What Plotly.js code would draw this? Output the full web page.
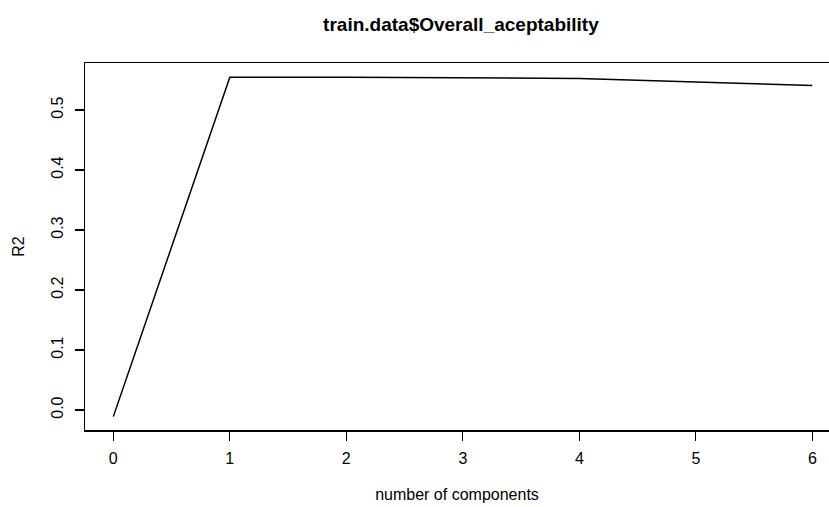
<!DOCTYPE html>
<html>
<head>
<meta charset="utf-8">
<script src="https://cdn.plot.ly/plotly-3.0.1.min.js"></script>
<style>html,body{margin:0;padding:0;background:#fff;}#chart{width:829px;height:507px;}</style>
</head>
<body>
<div id="chart"></div>
<script>
const components = [0, 1, 2, 3, 4, 5, 6];
const r2Values = [-0.011, 0.5545, 0.5545, 0.5540, 0.5525, 0.5465, 0.5410];
const xTicks = [0, 1, 2, 3, 4, 5, 6];
const yTicks = [0.0, 0.1, 0.2, 0.3, 0.4, 0.5];
const yTickLabels = ["0.0", "0.1", "0.2", "0.3", "0.4", "0.5"];

const font = "Liberation Sans, Arial, sans-serif";

Plotly.newPlot("chart", [{
  x: components,
  y: r2Values,
  type: "scatter",
  mode: "lines",
  line: {color: "#000000", width: 1.5},
  hoverinfo: "skip"
}], {
  width: 829,
  height: 507,
  margin: {l: 85, r: 0, t: 63, b: 77},
  paper_bgcolor: "#ffffff",
  plot_bgcolor: "#ffffff",
  showlegend: false,
  font: {family: font, size: 16, color: "#000000"},
  title: {
    text: "<b>train.data$Overall_aceptability</b>",
    font: {family: font, size: 19, color: "#000000"},
    xref: "container", x: 0.556, xanchor: "center",
    yref: "container", y: 0.951, yanchor: "middle"
  },
  xaxis: {
    range: [-0.243, 6.143],
    tickmode: "array", tickvals: xTicks, ticktext: xTicks.map(String),
    ticks: "outside", ticklen: 9, tickwidth: 1.3, tickcolor: "#000",
    showline: true, linecolor: "#000", linewidth: 1.5, mirror: true,
    showgrid: false, zeroline: false,
    tickfont: {family: font, size: 16},
    ticklabelstandoff: 4,
    title: {text: "number of components", font: {family: font, size: 16}, standoff: 23}
  },
  yaxis: {
    range: [-0.0333, 0.5783],
    tickmode: "array", tickvals: yTicks, ticktext: yTickLabels,
    tickangle: -90,
    ticks: "outside", ticklen: 9, tickwidth: 1.3, tickcolor: "#000",
    showline: true, linecolor: "#000", linewidth: 1.5, mirror: false,
    showgrid: false, zeroline: false,
    tickfont: {family: font, size: 16},
    ticklabelstandoff: 5,
    title: {text: "R2", font: {family: font, size: 16}, standoff: 20}
  }
}, {staticPlot: true, displayModeBar: false});
</script>
</body>
</html>
